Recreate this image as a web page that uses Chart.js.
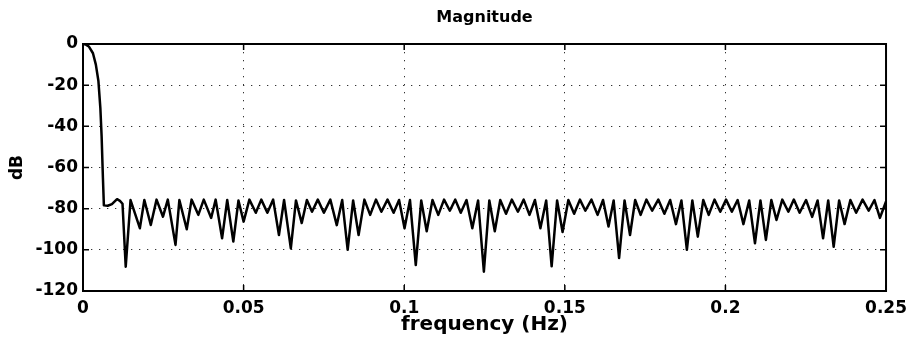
<!DOCTYPE html>
<html>
<head>
<meta charset="utf-8">
<title>Magnitude</title>
<script src="https://cdn.jsdelivr.net/npm/chart.js@4"></script>
<style>
  body { margin: 0; background: #fff; }
  canvas { display: block; }
</style>
</head>
<body>
<canvas id="magChart" width="914" height="339"></canvas>
<script>
// filter response: frequency (Hz) and magnitude (dB), passband then stopband ripple
const freqHz = [
    0, 0.0009, 0.0018, 0.0031, 0.0040, 0.0048, 0.0054, 0.0058, 0.0062, 0.0065,
    0.0077, 0.0090, 0.0106, 0.0115, 0.0123, 0.0133, 0.0148, 0.0177, 0.0191, 0.0211,
    0.0229, 0.0249, 0.0264, 0.0288, 0.0300, 0.0323, 0.0338, 0.0359, 0.0376, 0.0399,
    0.0413, 0.0433, 0.0449, 0.0468, 0.0484, 0.0500, 0.0518, 0.0538, 0.0555, 0.0574,
    0.0592, 0.0610, 0.0626, 0.0647, 0.0663, 0.0681, 0.0697, 0.0713, 0.0731, 0.0750,
    0.0770, 0.0790, 0.0807, 0.0824, 0.0841, 0.0858, 0.0876, 0.0894, 0.0912, 0.0929,
    0.0948, 0.0967, 0.0984, 0.1001, 0.1018, 0.1036, 0.1053, 0.1070, 0.1088, 0.1106,
    0.1124, 0.1142, 0.1159, 0.1176, 0.1194, 0.1212, 0.1230, 0.1248, 0.1265, 0.1282,
    0.1299, 0.1317, 0.1335, 0.1354, 0.1372, 0.1390, 0.1407, 0.1424, 0.1442, 0.1459,
    0.1476, 0.1493, 0.1511, 0.1529, 0.1547, 0.1564, 0.1583, 0.1602, 0.1619, 0.1636,
    0.1652, 0.1669, 0.1686, 0.1703, 0.1719, 0.1736, 0.1754, 0.1772, 0.1791, 0.1810,
    0.1828, 0.1846, 0.1863, 0.1880, 0.1897, 0.1914, 0.1931, 0.1948, 0.1966, 0.1984,
    0.2002, 0.2020, 0.2038, 0.2056, 0.2074, 0.2092, 0.2109, 0.2126, 0.2143, 0.2159,
    0.2177, 0.2196, 0.2213, 0.2231, 0.2251, 0.2270, 0.2287, 0.2304, 0.2320, 0.2337,
    0.2354, 0.2371, 0.2389, 0.2407, 0.2427, 0.2446, 0.2464, 0.2481, 0.2500
];

const magDb = [
    0, -0.3, -1.2, -4.5, -10, -18, -31, -45, -65, -78.4,
    -78.6, -77.8, -75.4, -76.2, -77.6, -108.2, -75.8, -89.5, -75.8, -87.9,
    -75.6, -83.9, -75.6, -97.6, -75.8, -90, -75.6, -83, -75.6, -84.5,
    -75.6, -94.4, -75.8, -96, -76, -86.3, -75.6, -82, -75.6, -82,
    -75.6, -92.8, -75.8, -99.3, -76, -87, -75.8, -81.5, -75.6, -82,
    -75.6, -88, -75.8, -100, -76, -92.8, -75.6, -83, -75.6, -81.5,
    -75.6, -82, -75.8, -89.5, -75.8, -107.4, -76, -91, -75.8, -83,
    -75.6, -81, -75.6, -82, -75.8, -89.5, -76, -110.6, -76, -91,
    -75.8, -82.5, -75.6, -81.5, -75.6, -83, -75.8, -89.5, -76, -108,
    -76, -91.3, -75.8, -82.5, -75.6, -81, -75.6, -83, -75.8, -88.7,
    -76, -104, -76, -92.8, -75.8, -83, -75.6, -81, -75.6, -82.5,
    -75.8, -87.5, -76, -100, -76, -93.6, -75.8, -83, -75.6, -81.5,
    -75.6, -81.5, -75.8, -87.5, -76, -96.8, -76, -95.2, -75.8, -85.5,
    -75.6, -81.5, -75.6, -82, -75.8, -84, -76, -94.4, -76, -98.5,
    -76, -87.5, -75.8, -82, -75.6, -81, -75.8, -84.5, -76.5
];

const xTicks = [0, 0.05, 0.1, 0.15, 0.2, 0.25];
const xTickLabels = ['0', '0.05', '0.1', '0.15', '0.2', '0.25'];
const yTicks = [-120, -100, -80, -60, -40, -20, 0];

const FONT = "'DejaVu Sans', sans-serif";

// plot frame, inward tick marks and the title
const frameBox = {
    id: 'frameBox',
    afterDatasetsDraw(chart) {
        const { ctx, chartArea: a, scales } = chart;
        ctx.save();
        ctx.strokeStyle = '#000';
        ctx.lineWidth = 1.5;
        ctx.beginPath();
        scales.x.ticks.forEach(t => {
            const px = scales.x.getPixelForValue(t.value);
            ctx.moveTo(px, a.bottom); ctx.lineTo(px, a.bottom - 6);
            ctx.moveTo(px, a.top); ctx.lineTo(px, a.top + 6);
        });
        scales.y.ticks.forEach(t => {
            const py = scales.y.getPixelForValue(t.value);
            ctx.moveTo(a.left, py); ctx.lineTo(a.left + 6, py);
            ctx.moveTo(a.right, py); ctx.lineTo(a.right - 6, py);
        });
        ctx.stroke();
        ctx.lineWidth = 2;
        ctx.strokeRect(a.left, a.top, a.right - a.left, a.bottom - a.top);
        ctx.restore();
    },
    afterDraw(chart) {
        const { ctx, chartArea: a } = chart;
        ctx.save();
        ctx.fillStyle = '#000';
        ctx.font = 'bold 16px ' + FONT;
        ctx.textAlign = 'center';
        ctx.textBaseline = 'middle';
        ctx.fillText('Magnitude', (a.left + a.right) / 2, 18);
        ctx.restore();
    }
};

new Chart(document.getElementById('magChart'), {
    type: 'line',
    data: {
        datasets: [{
            data: freqHz.map((f, i) => ({ x: f, y: magDb[i] })),
            borderColor: '#000',
            borderWidth: 2.5,
            borderJoinStyle: 'round',
            pointRadius: 0,
            tension: 0,
            fill: false
        }]
    },
    options: {
        responsive: false,
        animation: false,
        layout: { padding: { top: 44, right: 24, bottom: 0, left: 0 } },
        plugins: {
            legend: { display: false },
            tooltip: { enabled: false }
        },
        scales: {
            x: {
                type: 'linear',
                min: 0,
                max: 0.25,
                afterBuildTicks: s => { s.ticks = xTicks.map(v => ({ value: v })); },
                afterFit: s => { s.height = 48; },
                ticks: {
                    color: '#000',
                    padding: 7,
                    maxRotation: 0,
                    font: { family: FONT, size: 17, weight: 'bold' },
                    callback: (v, i) => xTickLabels[i]
                },
                grid: { color: '#333', lineWidth: 1, drawTicks: false },
                border: { display: false, dash: [1.3, 6.7] },
                title: {
                    display: true,
                    text: 'frequency (Hz)',
                    color: '#000',
                    font: { family: FONT, size: 20, weight: 'bold' },
                    padding: { top: 0, bottom: 2 }
                }
            },
            y: {
                min: -120,
                max: 0,
                afterBuildTicks: s => { s.ticks = yTicks.map(v => ({ value: v })); },
                afterFit: s => { s.width = 83; },
                ticks: {
                    color: '#000',
                    padding: 5,
                    font: { family: FONT, size: 17, weight: 'bold' }
                },
                grid: { color: '#333', lineWidth: 1, drawTicks: false },
                border: { display: false, dash: [1.3, 6.7] },
                title: {
                    display: true,
                    text: 'dB',
                    color: '#000',
                    font: { family: FONT, size: 17, weight: 'bold' },
                    padding: { top: 7, bottom: 0 }
                }
            }
        }
    },
    plugins: [frameBox]
});
</script>
</body>
</html>
